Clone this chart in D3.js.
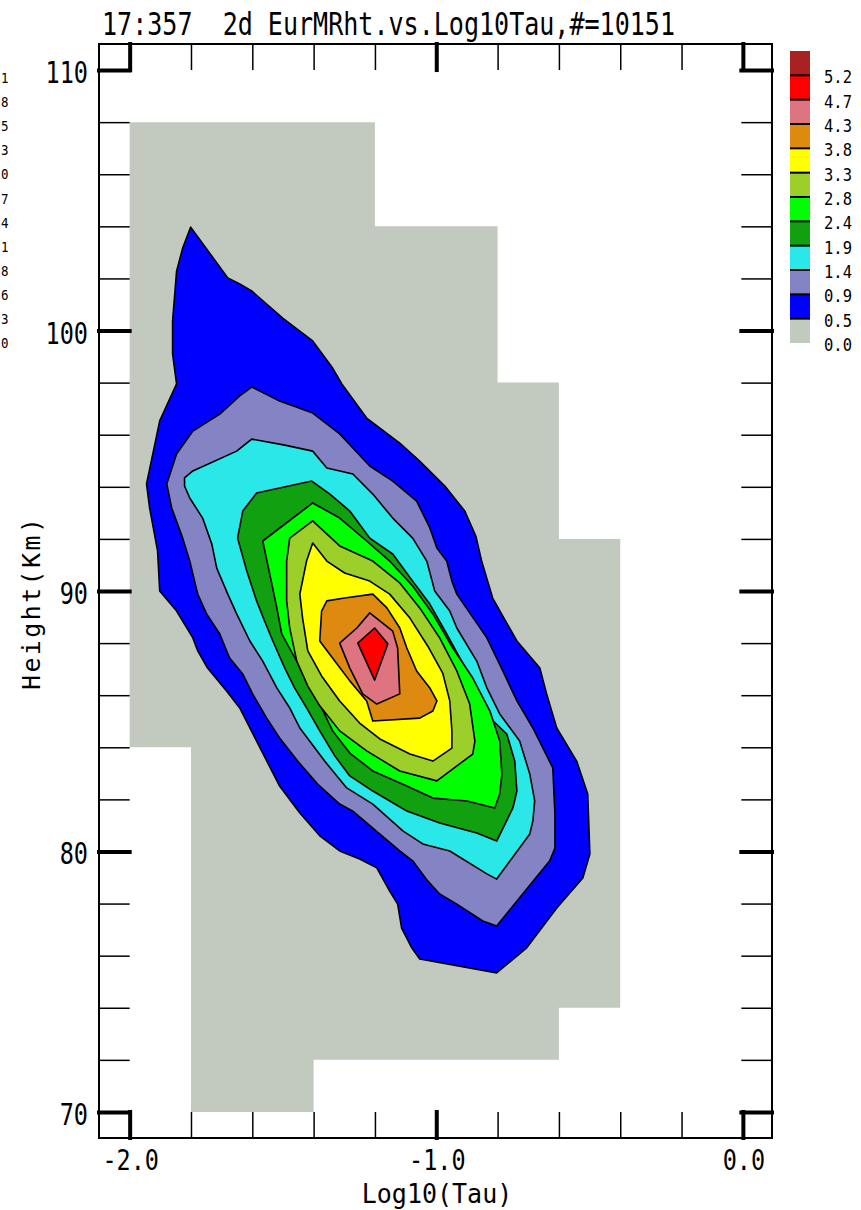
<!DOCTYPE html>
<html><head><meta charset="utf-8">
<script src="https://cdn.jsdelivr.net/npm/d3@7"></script>
<style>body{margin:0;background:#fff} svg{display:block}</style>
</head><body>
<svg id="chart" width="861" height="1210"></svg>
<script>
// ---------- text / ticks ----------
const titleText = "17:357  2d EurMRht.vs.Log10Tau,#=10151";
const sideDigits = ["1","8","5","3","0","7","4","1","8","6","3","0"];
const xMajorTicks = [-2, -1, 0];
const xMajorLabels = ["-2.0", "-1.0", "0.0"];
const xMinorTicks = [-1.8, -1.6, -1.4, -1.2, -0.8, -0.6, -0.4, -0.2];
const yMajorTicks = [70, 80, 90, 100, 110];
const yMajorLabels = ["70", "80", "90", "100", "110"];
const yMinorTicks = [72, 74, 76, 78, 82, 84, 86, 88, 92, 94, 96, 98, 102, 104, 106, 108];
const xTitle = "Log10(Tau)";
const yTitle = "Height(Km)";

// ---------- legend ----------
const legendLabels = ["5.2", "4.7", "4.3", "3.8", "3.3", "2.8", "2.4", "1.9", "1.4", "0.9", "0.5", "0.0"];
const legendColors = ["#a82222", "#ff0000", "#de7480", "#de8a10", "#ffff00", "#9ccf2a",
                      "#00ff00", "#10a010", "#2ae8e8", "#8484c4", "#0000ff", "#c2cac0"];

// ---------- data coverage (cells holding data, value 0.0-0.5 band) ----------
const coverX0 = [-2.0, -1.8, -1.4, -1.2, -0.8, -0.6];
const coverX1 = [-1.8, -1.4, -1.2, -0.8, -0.6, -0.4];
const coverYLow = [84, 70, 72, 72, 72, 74];
const coverYHigh = [108, 108, 108, 104, 98, 92];

// ---------- contour isolines [log10 tau, height km] ----------
const levels = [0.5, 0.9, 1.4, 1.9, 2.4, 2.8, 3.3, 3.8, 4.3, 4.7];
const contour05 = [[-1.801,103.97],[-1.680,102.02],[-1.641,101.79],[-1.602,101.52],[-1.501,100.48],[-1.403,99.60],[-1.338,98.56],[-1.308,97.95],[-1.227,96.64],[-1.119,95.68],[-1.054,94.99],[-0.972,94.03],[-0.907,93.07],[-0.871,92.11],[-0.852,91.15],[-0.816,89.73],[-0.737,88.08],[-0.662,87.04],[-0.640,86.05],[-0.607,84.74],[-0.542,83.47],[-0.506,82.21],[-0.499,79.90],[-0.522,78.98],[-0.607,77.83],[-0.705,76.30],[-0.803,75.34],[-1.054,75.87],[-1.080,76.30],[-1.113,77.06],[-1.126,77.98],[-1.152,78.48],[-1.194,79.37],[-1.250,79.71],[-1.315,80.02],[-1.380,80.60],[-1.445,81.48],[-1.511,82.51],[-1.586,84.24],[-1.641,85.51],[-1.684,86.16],[-1.746,87.04],[-1.778,87.70],[-1.794,88.20],[-1.847,89.23],[-1.902,90.00],[-1.909,91.54],[-1.935,93.19],[-1.945,94.11],[-1.902,96.53],[-1.847,97.95],[-1.860,99.10],[-1.860,100.36],[-1.847,102.28],[-1.827,103.17]];
const contour09 = [[-1.602,97.83],[-1.511,97.29],[-1.403,96.83],[-1.315,96.03],[-1.217,94.80],[-1.142,94.22],[-1.064,93.45],[-1.021,92.42],[-0.998,91.65],[-0.966,91.15],[-0.949,90.38],[-0.933,89.88],[-0.835,88.20],[-0.783,86.93],[-0.737,85.78],[-0.685,84.74],[-0.620,83.21],[-0.613,81.44],[-0.613,80.13],[-0.630,79.64],[-0.803,77.14],[-0.848,77.33],[-0.933,77.98],[-0.989,78.37],[-1.028,78.87],[-1.077,79.64],[-1.119,80.02],[-1.207,80.90],[-1.272,81.55],[-1.315,81.82],[-1.387,82.59],[-1.452,83.47],[-1.511,84.36],[-1.553,85.12],[-1.599,86.05],[-1.631,86.81],[-1.674,87.43],[-1.706,88.35],[-1.749,89.12],[-1.778,89.88],[-1.804,91.15],[-1.827,92.03],[-1.863,93.19],[-1.879,94.11],[-1.847,95.26],[-1.794,96.14],[-1.706,96.79],[-1.641,97.49]];
const contour14 = [[-1.602,95.83],[-1.494,95.60],[-1.403,95.37],[-1.357,94.72],[-1.272,94.49],[-1.207,93.72],[-1.142,92.80],[-1.077,92.03],[-1.031,91.15],[-1.005,90.00],[-0.956,89.23],[-0.933,88.58],[-0.868,87.31],[-0.835,86.28],[-0.793,85.28],[-0.728,84.24],[-0.695,82.97],[-0.679,81.94],[-0.685,81.17],[-0.695,80.67],[-0.803,78.94],[-0.835,79.14],[-0.956,80.02],[-1.044,80.29],[-1.109,80.79],[-1.207,81.82],[-1.292,82.44],[-1.364,83.47],[-1.445,84.74],[-1.478,85.51],[-1.520,86.28],[-1.566,87.31],[-1.608,88.08],[-1.651,89.12],[-1.680,89.88],[-1.716,90.88],[-1.732,91.80],[-1.762,92.80],[-1.804,93.57],[-1.821,94.03],[-1.821,94.34],[-1.794,94.61],[-1.651,95.37]];
const contour19 = [[-1.406,94.22],[-1.347,93.72],[-1.282,93.07],[-1.217,92.03],[-1.142,91.42],[-1.077,90.38],[-1.021,89.50],[-0.966,88.35],[-0.900,86.93],[-0.848,85.39],[-0.770,84.51],[-0.744,83.47],[-0.737,82.32],[-0.750,81.67],[-0.803,80.40],[-0.868,80.71],[-0.989,81.09],[-1.096,81.55],[-1.207,82.32],[-1.282,82.90],[-1.331,83.67],[-1.380,84.63],[-1.423,85.51],[-1.462,86.28],[-1.494,87.04],[-1.533,88.08],[-1.560,88.85],[-1.586,89.62],[-1.618,90.77],[-1.648,92.03],[-1.631,93.07],[-1.586,93.76]];
const contour24 = [[-1.403,93.38],[-1.315,92.80],[-1.227,91.92],[-1.152,91.15],[-1.077,90.19],[-1.011,89.12],[-0.946,87.81],[-0.881,86.66],[-0.825,85.39],[-0.793,84.24],[-0.786,82.97],[-0.793,82.21],[-0.809,81.67],[-0.900,81.94],[-1.011,82.05],[-1.096,82.51],[-1.207,83.09],[-1.282,83.78],[-1.338,84.63],[-1.380,85.66],[-1.423,86.66],[-1.468,87.58],[-1.504,88.35],[-1.520,89.35],[-1.543,90.65],[-1.566,91.92]];
const contour28 = [[-1.403,92.69],[-1.315,91.73],[-1.207,91.15],[-1.119,90.31],[-1.054,89.35],[-0.989,88.20],[-0.933,86.93],[-0.891,85.66],[-0.874,84.24],[-0.881,83.74],[-0.998,82.71],[-1.119,83.09],[-1.227,83.86],[-1.315,84.63],[-1.380,85.59],[-1.419,86.35],[-1.455,87.31],[-1.478,88.58],[-1.488,89.62],[-1.488,91.15],[-1.478,92.03]];
const contour33 = [[-1.403,91.84],[-1.357,91.15],[-1.299,90.69],[-1.217,90.38],[-1.152,89.88],[-1.086,88.96],[-1.028,87.89],[-0.979,86.85],[-0.956,85.78],[-0.949,84.63],[-0.949,83.97],[-1.011,83.47],[-1.086,83.74],[-1.184,84.32],[-1.250,84.93],[-1.315,85.78],[-1.374,86.74],[-1.419,87.70],[-1.436,88.96],[-1.445,89.88],[-1.423,91.15]];
const contour38 = [[-1.357,89.62],[-1.299,89.73],[-1.207,89.88],[-1.161,89.35],[-1.119,88.58],[-1.096,87.81],[-1.064,86.93],[-1.021,86.28],[-0.998,85.78],[-1.011,85.39],[-1.054,85.12],[-1.207,85.01],[-1.227,85.78],[-1.282,86.55],[-1.331,87.31],[-1.380,88.08],[-1.374,89.23]];
const contour43 = [[-1.315,88.00],[-1.259,88.58],[-1.217,89.16],[-1.142,88.46],[-1.126,87.81],[-1.119,86.05],[-1.194,85.66],[-1.240,86.05],[-1.282,87.04]];
const contour47 = [[-1.256,88.00],[-1.201,88.58],[-1.158,87.97],[-1.201,86.58]];

const contourSets = [contour05, contour09, contour14, contour19, contour24, contour28, contour33, contour38, contour43, contour47];
// colour of the band above each level (legend order is top = highest)
const levelColor = lv => legendColors[legendLabels.length - 2 - levels.indexOf(lv)];

// ---------- drawing ----------
const svg = d3.select("#chart");
const FONT = "'DejaVu Sans Mono', 'Liberation Mono', monospace";

const x = d3.scaleLinear().domain([-2.1, 0.095]).range([99, 772]);
const y = d3.scaleLinear().domain([69, 111]).range([1138, 44]);

function txt(g, s, px, py, size, anchor, sy, extra) {
  const t = g.append("text")
    .attr("transform", `translate(${px},${py}) scale(1,${sy})`)
    .attr("font-family", FONT).attr("font-size", size)
    .attr("text-anchor", anchor).attr("fill", "#000")
    .style("white-space", "pre")
    .text(s);
  if (extra) extra(t);
  return t;
}

// data coverage as one path (no seams between blocks)
const cover = d3.path();
coverX0.forEach((x0, i) => {
  cover.rect(x(x0), y(coverYHigh[i]), x(coverX1[i]) - x(x0), y(coverYLow[i]) - y(coverYHigh[i]));
});
svg.append("path").attr("d", cover.toString()).attr("fill", legendColors[legendColors.length - 1]);

// filled contours
const line = d3.line().x(d => x(d[0])).y(d => y(d[1])).curve(d3.curveLinearClosed);
svg.append("g").selectAll("path").data(levels.map((lv, i) => ({ lv, pts: contourSets[i] }))).join("path")
  .attr("d", d => line(d.pts))
  .attr("fill", d => levelColor(d.lv))
  .attr("stroke", "#000").attr("stroke-width", 1.6).attr("stroke-linejoin", "round");

// ticks
const [X0, X1] = x.range();
const [Y0, Y1] = y.range(); // Y0 bottom, Y1 top
const tLenX = y(69) - y(70);      // bottom/top tick length
const tLenY = x(-2) - x(-2.1);     // left/right tick length

function axisLines(axis, tr, vals, len, width) {
  const g = svg.append("g").attr("transform", tr)
    .call(axis.tickValues(vals).tickSize(len).tickSizeOuter(0).tickFormat(""));
  g.select(".domain").remove();
  g.selectAll("line").attr("stroke", "#000").attr("stroke-width", width)
    .attr("stroke-linecap", width > 2 ? "square" : "butt");
  return g;
}
axisLines(d3.axisTop(x), `translate(0,${Y0})`, xMinorTicks, tLenX, 1.5);
axisLines(d3.axisBottom(x), `translate(0,${Y1})`, xMinorTicks, tLenX, 1.5);
axisLines(d3.axisRight(y), `translate(${X0},0)`, yMinorTicks, tLenY, 1.5);
axisLines(d3.axisLeft(y), `translate(${X1},0)`, yMinorTicks, tLenY, 1.5);
axisLines(d3.axisTop(x), `translate(0,${Y0})`, xMajorTicks, tLenX, 4);
axisLines(d3.axisBottom(x), `translate(0,${Y1})`, xMajorTicks, tLenX, 4);
axisLines(d3.axisRight(y), `translate(${X0},0)`, yMajorTicks, tLenY, 4);
axisLines(d3.axisLeft(y), `translate(${X1},0)`, yMajorTicks, tLenY, 4);

// frame
svg.append("rect").attr("x", X0).attr("y", Y1).attr("width", X1 - X0).attr("height", Y0 - Y1)
  .attr("fill", "none").attr("stroke", "#000").attr("stroke-width", 2);

// tick labels
const lab = svg.append("g");
xMajorTicks.forEach((v, i) => txt(lab, xMajorLabels[i], x(v) + 1, 1170, 23.5, "middle", 1.22));
yMajorTicks.forEach((v, i) => txt(lab, yMajorLabels[i], 88, y(v) + 13, 23.5, "end", 1.28));

// axis titles
txt(lab, xTitle, 437, 1203, 25, "middle", 1.05);
lab.append("text")
  .attr("transform", `translate(40,604) rotate(-90)`)
  .attr("font-family", FONT).attr("font-size", 25).attr("text-anchor", "middle")
  .attr("textLength", 172).attr("lengthAdjust", "spacing")
  .text(yTitle);

// title
txt(lab, titleText, 102, 35, 25, "start", 1.3, t => t.attr("textLength", 573).attr("lengthAdjust", "spacingAndGlyphs"));

// side digits
sideDigits.forEach((d, i) => txt(lab, d, 1, 83 + i * 24.1, 12.5, "start", 1.1));

// legend
const lg = svg.append("g");
const ly = d3.scaleLinear().domain([0, legendLabels.length]).range([51, 343]);
lg.selectAll("rect").data(legendColors).join("rect")
  .attr("x", 790).attr("width", 20)
  .attr("y", (d, i) => ly(i)).attr("height", (d, i) => ly(i + 1) - ly(i))
  .attr("fill", d => d);
lg.selectAll("line").data(d3.range(1, legendLabels.length)).join("line")
  .attr("x1", 790).attr("x2", 810).attr("y1", d => ly(d)).attr("y2", d => ly(d))
  .attr("stroke", "#000").attr("stroke-width", 2);
legendLabels.forEach((s, i) => txt(lg, s, 824, ly(i + 1) + 8, 15.5, "start", 1.1));
</script>
</body></html>
